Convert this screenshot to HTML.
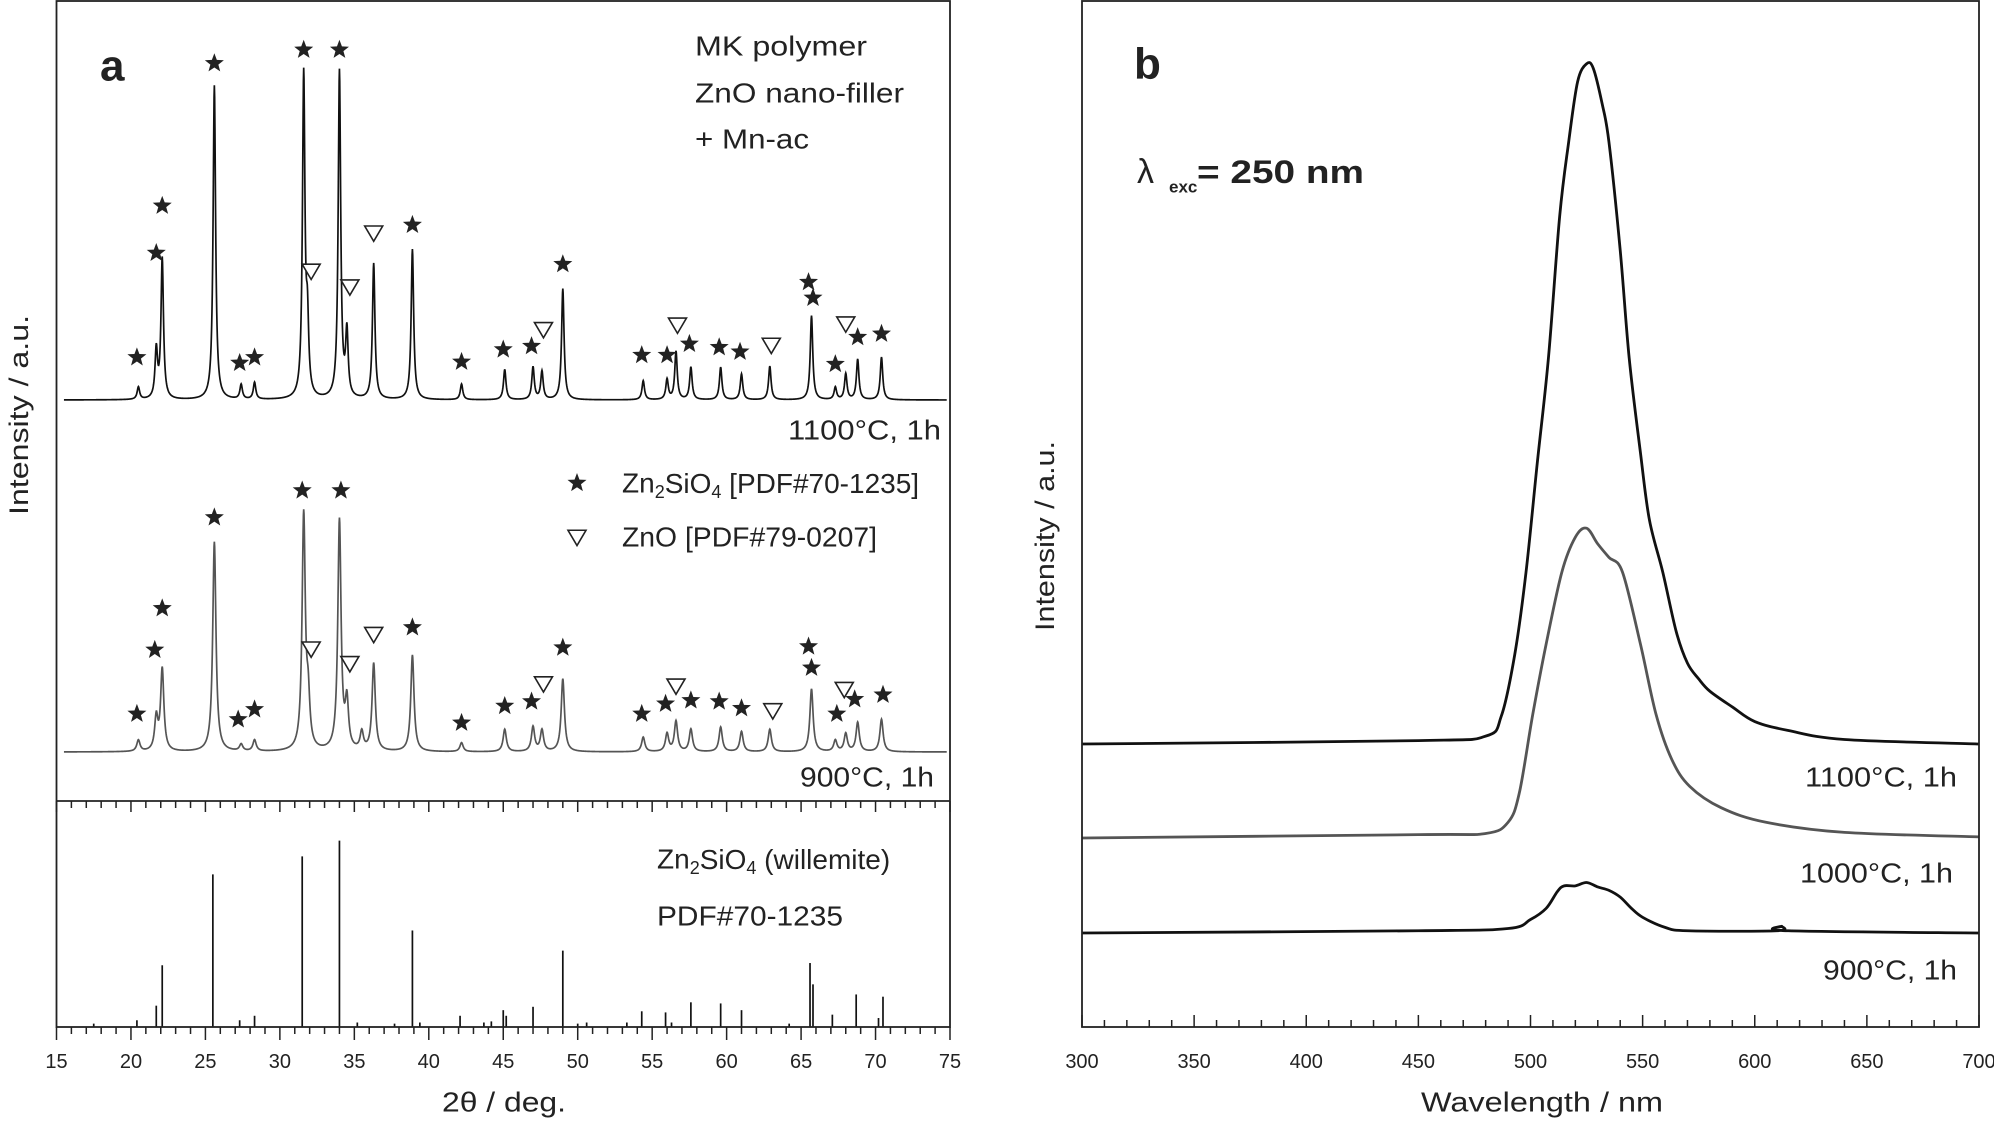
<!DOCTYPE html>
<html><head><meta charset="utf-8"><style>
html,body{margin:0;padding:0;background:#fff}
svg{display:block;font-family:"Liberation Sans",sans-serif}
</style></head><body>
<svg id="fig" width="1994" height="1123" viewBox="0 0 1994 1123">
<g id="pa"></g>
<g id="pb"></g>
</svg>
<script>
// ---------- Panel a data ----------
const peakPos1100 = [20.5,21.7,22.1,25.6,27.4,28.3,31.6,31.85,34.0,34.5,36.3,38.9,42.2,45.1,47.0,47.6,49.0,54.4,56.0,56.6,57.6,59.6,61.0,62.9,65.7,67.3,68.0,68.8,70.4];
const peakH1100   = [11,43,125,280,13,15,287,60,292,57,121,134,14,27,29,25,99,17,18,43,29,29,23,30,75,11,23,36,38];
const peakPos900  = [20.5,21.7,22.1,25.6,27.4,28.3,31.6,31.9,34.0,34.5,35.5,36.3,38.9,42.2,45.1,47.0,47.6,49.0,54.4,56.0,56.6,57.6,59.6,61.0,62.9,65.7,67.3,68.0,68.8,70.4];
const peakH900    = [10,29,73,187,6,10,209,40,205,41,16,78,86,8,20,22,19,65,13,16,27,20,22,18,20,56,10,16,26,29];
const refPos = [17.5,20.4,21.7,22.1,25.5,27.3,28.3,31.5,34.0,35.2,37.7,38.9,39.4,42.1,43.7,44.2,45.0,45.2,47.0,49.0,50.0,50.6,53.3,54.3,55.9,56.3,57.6,59.6,61.0,64.2,65.6,65.8,67.1,68.7,70.2,70.5];
const refH   = [3,6,19,55,136,6,10,152,166,4,3,86,4,10,4,5,15,10,18,68,3,4,4,14,13,4,22,21,15,3,57,38,11,29,8,27];
const starPosUp = [20.4,21.7,22.1,25.6,27.3,28.3,31.6,34.0,38.9,42.2,45.0,46.9,49.0,54.3,56.0,57.5,59.5,60.9,65.5,65.8,67.3,68.8,70.4];
const starLvUp  = [38,131,173,300,33,38,312,312,156,34,45,48,121,40,40,50,47,43,105,91,32,56,59];
const triPosUp  = [32.1,34.7,36.3,47.7,56.7,63.0,68.0];
const triLvUp   = [115,101,149,63,67,49,68];
const starPosLo = [20.4,21.6,22.1,25.6,27.2,28.3,31.5,34.1,38.9,42.2,45.1,46.9,49.0,54.3,55.9,57.6,59.5,61.0,65.5,65.7,67.4,68.6,70.5];
const starLvLo  = [34,91,128,209,29,38,233,233,111,26,41,45,93,34,43,46,45,39,94,75,34,47,51];
const triPosLo  = [32.1,34.7,36.3,47.7,56.6,63.1,67.9];
const triLvLo   = [92,79,105,61,59,37,56];
const xTicksA = [15,20,25,30,35,40,45,50,55,60,65,70,75];

// ---------- Panel b data ----------
const wl1100 = [300,450,480,487,493,498,503,508,513,517,521,525,528,532,535,540,544,549,553,559,565,570,575,580,590,600,615,640,700];
const pl1100 = [0,3,7,25,80,153,250,344,470,536,590,606,602,570,536,440,344,260,200,153,100,72,58,47,33,20,12,4,0];
const wl1000 = [300,450,480,490,495,501,507,514,520,525,530,535,541,549,556,563,571,585,605,640,700];
const pl1000 = [0,3,4,14,40,110,173,237,268,276,262,250,237,173,110,70,46,27,14,5,1];
const wl900  = [300,450,490,500,507,512,515,520,525,530,535,540,545,550,560,570,610,612,615,700];
const pl900  = [0,2,4,12,22,37,42,42,45,41,38,32,22,14,5,2,2,6,2,0];
const xTicksB = [300,350,400,450,500,550,600,650,700];

const NS="http://www.w3.org/2000/svg";
const K=1.1224;
function mk(parent,tag,attrs,text){const e=document.createElementNS(NS,tag);for(const k in attrs)e.setAttribute(k,attrs[k]);if(text!==undefined)e.textContent=text;parent.appendChild(e);return e;}

// ---------- Panel a ----------
const pa=document.getElementById('pa');
const AX0=56.5, AX1=950;
const xA=v=>AX0+(v-15)*(AX1-AX0)/60;
const baseUp=400, baseLo=752, baseRef=1027, DIV=801;
const yUp=h=>baseUp-h*K, yLo=h=>baseLo-h*K, yRef=h=>baseRef-h*K;

function trace(pos,H,w,yf,color,name){
  let d='';
  for(let x=15.5;x<=74.8;x+=0.02){
    let s=0;for(let i=0;i<pos.length;i++){const t=(x-pos[i])/w;s+=H[i]/(1+t*t);}
    d+=(d?'L':'M')+xA(x).toFixed(2)+','+yf(s).toFixed(2);
  }
  const p=mk(pa,'path',{d:d,fill:'none',stroke:color,'stroke-width':1.7});
  
  
}
trace(peakPos1100,peakH1100,0.1,yUp,'#111','xrd-trace-1100c');
trace(peakPos900,peakH900,0.13,yLo,'#555','xrd-trace-900c');

refPos.forEach((p,i)=>{
  const l=mk(pa,'line',{x1:xA(p),x2:xA(p),y1:yRef(0),y2:yRef(refH[i]),stroke:'#111','stroke-width':1.7});
  
  
});

function starPath(cx,cy,R){const r=R*0.42;let d='';for(let k=0;k<10;k++){const a=-Math.PI/2+k*Math.PI/5;const rr=k%2?r:R;d+=(k?'L':'M')+(cx+rr*Math.cos(a)).toFixed(2)+','+(cy+rr*Math.sin(a)).toFixed(2);}return d+'Z';}
function triPath(cx,cy,s){return `M${cx-s},${cy-s*0.75}L${cx+s},${cy-s*0.75}L${cx},${cy+s*0.95}Z`;}
function stars(pos,lv,yf){pos.forEach((p,i)=>{const e=mk(pa,'path',{d:starPath(xA(p),yf(lv[i]),10),fill:'#222'});
  
  });}
function tris(pos,lv,yf){pos.forEach((p,i)=>{const e=mk(pa,'path',{d:triPath(xA(p),yf(lv[i]),9),fill:'#fff',stroke:'#222','stroke-width':1.6});
  
  });}
stars(starPosUp,starLvUp,yUp);tris(triPosUp,triLvUp,yUp);
stars(starPosLo,starLvLo,yLo);tris(triPosLo,triLvLo,yLo);

mk(pa,'rect',{x:AX0,y:1,width:AX1-AX0,height:baseRef-1,fill:'none',stroke:'#222','stroke-width':1.8,});
mk(pa,'line',{x1:AX0,x2:AX1,y1:DIV,y2:DIV,stroke:'#222','stroke-width':1.8,});
for(let v=15;v<=75;v++){
  const maj=v%5===0;
  mk(pa,'line',{x1:xA(v),x2:xA(v),y1:baseRef,y2:baseRef+(maj?13:7),stroke:'#222','stroke-width':1.5});
  mk(pa,'line',{x1:xA(v),x2:xA(v),y1:DIV,y2:DIV+(maj?11:7),stroke:'#222','stroke-width':1.5});
}
xTicksA.forEach(v=>{const t=mk(pa,'text',{x:xA(v),y:1062,'font-size':20,'text-anchor':'middle','dominant-baseline':'central',fill:'#222'},String(v));
  
  });
function txt(g,x,y,s,opts,name,tl){const a=Object.assign({x:x,y:y,'font-size':28,fill:'#222','dominant-baseline':'central',},opts||{});if(tl){a.textLength=tl;a.lengthAdjust='spacingAndGlyphs';}return mk(g,'text',a,s);}
txt(pa,100,66,'a',{'font-size':44,'font-weight':'bold'},'panel-a-label');
txt(pa,695,46,'MK polymer',{},'sample-note-1',172);
txt(pa,695,93,'ZnO nano-filler',{},'sample-note-2',209);
txt(pa,695,139,'+ Mn-ac',{},'sample-note-3',114);
txt(pa,941,430,'1100°C, 1h',{'text-anchor':'end'},'label-1100c',153);
txt(pa,934,777,'900°C, 1h',{'text-anchor':'end'},'label-900c',134);
mk(pa,'path',{d:starPath(577,483,10),fill:'#222',});
mk(pa,'path',{d:triPath(577,537,9),fill:'#fff',stroke:'#222','stroke-width':1.6,});
const l1=txt(pa,622,483,'',{},'legend-zn2sio4');
l1.innerHTML='Zn<tspan font-size="18" dy="9">2</tspan><tspan dy="-9">SiO</tspan><tspan font-size="18" dy="9">4</tspan><tspan dy="-9"> [PDF#70-1235]</tspan>';
txt(pa,622,537,'ZnO [PDF#79-0207]',{},'legend-zno',255);
const l3=txt(pa,657,859,'',{},'reference-title');
l3.innerHTML='Zn<tspan font-size="18" dy="9">2</tspan><tspan dy="-9">SiO</tspan><tspan font-size="18" dy="9">4</tspan><tspan dy="-9"> (willemite)</tspan>';
txt(pa,657,916,'PDF#70-1235',{},'reference-pdf',186);
txt(pa,504,1102,'2θ / deg.',{'text-anchor':'middle','font-size':28},'x-axis-title-a',124);
txt(pa,0,0,'Intensity / a.u.',{'text-anchor':'middle','font-size':27,transform:'translate(19,415) rotate(-90)'},'y-axis-title-a',200);

// ---------- Panel b ----------
const pb=document.getElementById('pb');
const BX0=1082,BX1=1979;
const xB=v=>BX0+(v-300)*(BX1-BX0)/400;
function curve(wl,pl,base,color,name){
  const P=wl.map((w,i)=>[xB(w),base-pl[i]*K]);
  let d='M'+P[0][0].toFixed(2)+','+P[0][1].toFixed(2);
  for(let i=0;i<P.length-1;i++){
    const p0=P[Math.max(0,i-1)],p1=P[i],p2=P[i+1],p3=P[Math.min(P.length-1,i+2)];
    const c1=[p1[0]+(p2[0]-p0[0])/6,p1[1]+(p2[1]-p0[1])/6];
    const c2=[p2[0]-(p3[0]-p1[0])/6,p2[1]-(p3[1]-p1[1])/6];
    d+='C'+c1[0].toFixed(2)+','+c1[1].toFixed(2)+' '+c2[0].toFixed(2)+','+c2[1].toFixed(2)+' '+p2[0].toFixed(2)+','+p2[1].toFixed(2);
  }
  const p=mk(pb,'path',{d:d,fill:'none',stroke:color,'stroke-width':2.8,'stroke-linejoin':'round'});
  
  
}
curve(wl1100,pl1100,744,'#111','pl-curve-1100c');
curve(wl1000,pl1000,838,'#555','pl-curve-1000c');
curve(wl900,pl900,933,'#111','pl-curve-900c');
mk(pb,'rect',{x:BX0,y:1,width:BX1-BX0,height:baseRef-1,fill:'none',stroke:'#222','stroke-width':1.8,});
for(let v=300;v<=700;v+=10){const maj=v%50===0;mk(pb,'line',{x1:xB(v),x2:xB(v),y1:baseRef,y2:baseRef-(maj?12:7),stroke:'#222','stroke-width':1.5});}
xTicksB.forEach(v=>{const t=mk(pb,'text',{x:xB(v),y:1062,'font-size':20,'text-anchor':'middle','dominant-baseline':'central',fill:'#222'},String(v));
  
  });
txt(pb,1134,64,'b',{'font-size':44,'font-weight':'bold'},'panel-b-label');
txt(pb,1137,172,'λ',{'font-size':34},'lambda-symbol');
txt(pb,1169,187,'exc',{'font-size':17,'font-weight':'bold'},'lambda-subscript');
txt(pb,1197,172,'= 250 nm',{'font-size':32,'font-weight':'bold'},'excitation-label',167);
txt(pb,1957,777,'1100°C, 1h',{'text-anchor':'end'},'label-1100c-b',152);
txt(pb,1953,873,'1000°C, 1h',{'text-anchor':'end'},'label-1000c-b',153);
txt(pb,1957,970,'900°C, 1h',{'text-anchor':'end'},'label-900c-b',134);
txt(pb,1542,1102,'Wavelength / nm',{'text-anchor':'middle','font-size':28},'x-axis-title-b',242);
txt(pb,0,0,'Intensity / a.u.',{'text-anchor':'middle','font-size':27,transform:'translate(1045,536) rotate(-90)'},'y-axis-title-b',190);
</script>
</body></html>
